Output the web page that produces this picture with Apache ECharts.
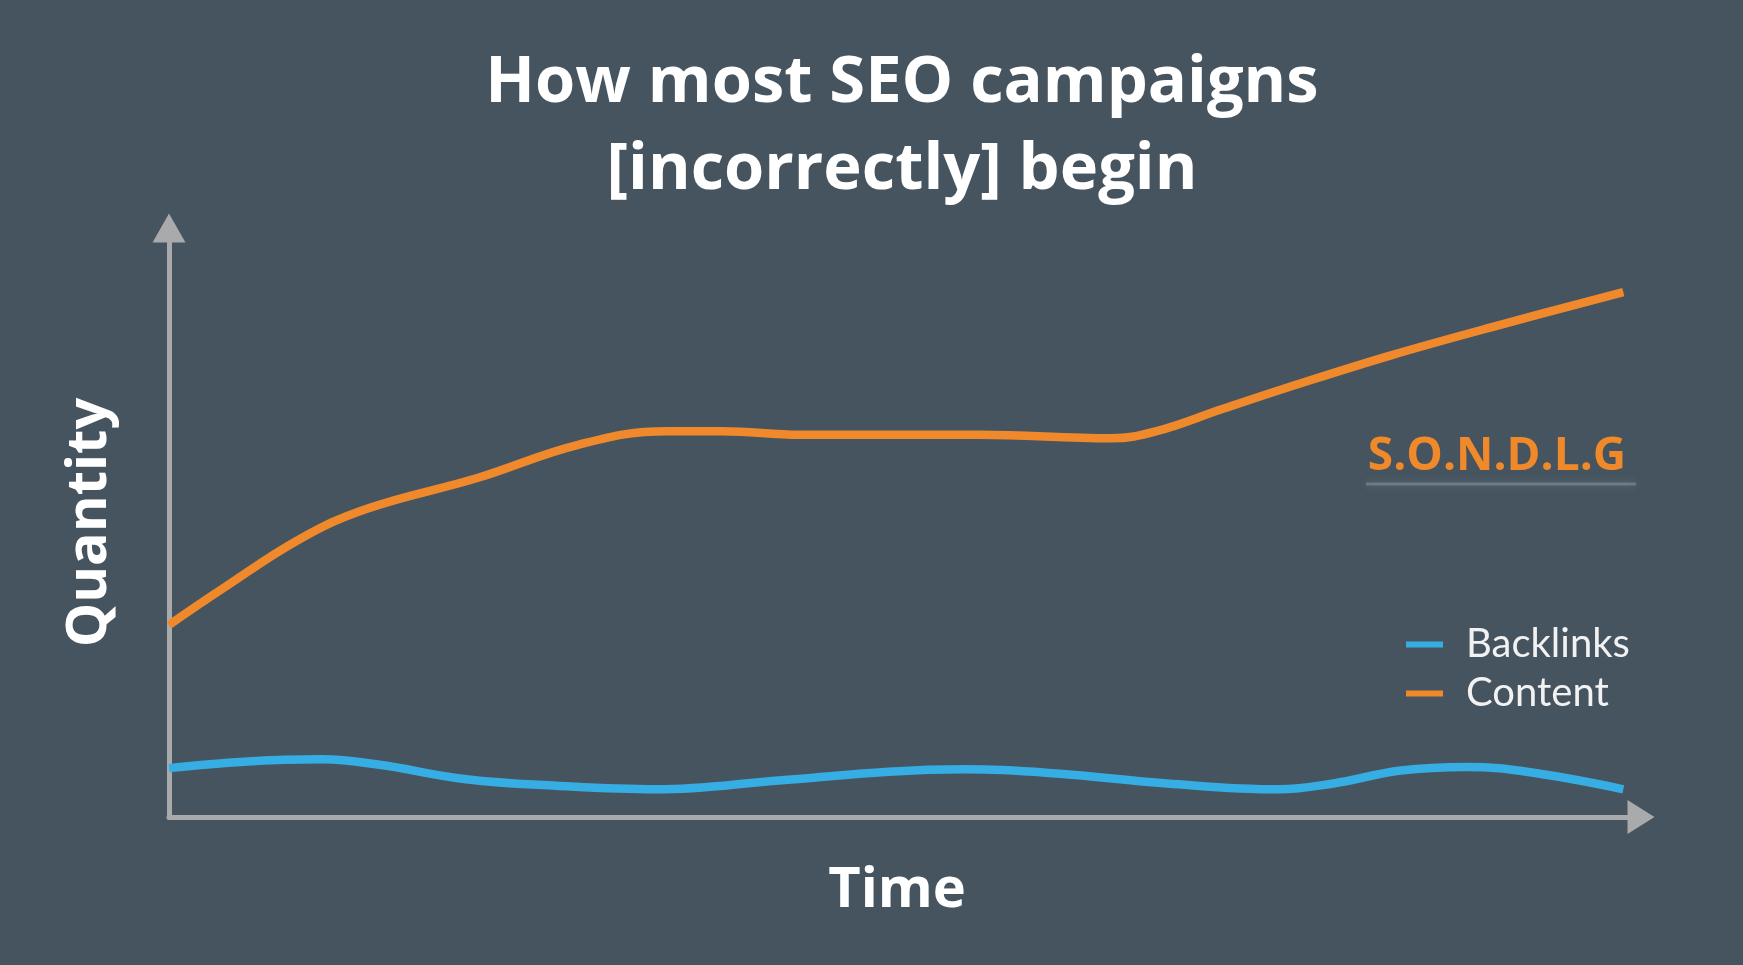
<!DOCTYPE html>
<html>
<head>
<meta charset="utf-8">
<script src="https://cdn.jsdelivr.net/npm/echarts@6/dist/echarts.min.js"></script>
<style>
html,body{margin:0;padding:0;background:#46545f;}
#chart{width:1743px;height:965px;}
</style>
</head>
<body>
<div id="chart"></div>
<script>
// Time position (0..100) and quantity (0..100)
const contentX = [0, 3.6, 8.9, 13.4, 21.0, 27.8, 33.8, 37.6, 42.9, 55.0, 64.0, 67.1, 71.6, 76.1, 82.9, 90.5, 98.8];
const contentY = [32.6, 38.7, 47.2, 52.3, 57.6, 63.2, 65.5, 65.5, 64.9, 64.9, 64.3, 65.5, 69.3, 73.0, 78.3, 83.6, 89.1];
const backlinksX = [0, 5.1, 10.4, 14.2, 20.2, 26.3, 33.1, 41.4, 48.9, 54.2, 60.3, 67.8, 75.4, 79.1, 83.7, 88.2, 92.7, 98.8];
const backlinksY = [8.3, 9.4, 9.8, 8.9, 6.4, 5.3, 4.7, 6.2, 7.7, 8.1, 7.4, 5.7, 4.7, 5.7, 7.9, 8.5, 7.5, 4.7];
const seriesNames = ['Backlinks', 'Content'];
const titleText = 'How most SEO campaigns\n[incorrectly] begin';
const xName = 'Time';
const yName = 'Quantity';
const badge = 'S.O.N.D.L.G';

const pairs = (xs, ys) => xs.map((x, i) => [x, ys[i]]);
const axisColor = '#a8aaac';
const chart = echarts.init(document.getElementById('chart'));
chart.setOption({
  backgroundColor: '#46545f',
  animation: false,
  title: {
    text: titleText,
    left: 897, top: 35,
    textAlign: 'center',
    textStyle: {color: '#ffffff', fontFamily: 'Open Sans', fontWeight: 'bold', fontSize: 65, lineHeight: 87}
  },
  legend: {
    data: seriesNames,
    orient: 'vertical',
    left: 1406, top: 620,
    padding: 0,
    icon: 'rect',
    itemWidth: 37, itemHeight: 6,
    itemGap: 0,
    textStyle: {color: '#f2f2f2', fontFamily: 'Lato', fontSize: 40, lineHeight: 49, padding: [0, 0, 0, 18]}
  },
  grid: {left: 169, right: 102, top: 228, bottom: 148},
  xAxis: {
    type: 'value', min: 0, max: 100,
    name: xName, nameLocation: 'middle', nameGap: 46,
    nameTextStyle: {color: '#ffffff', fontFamily: 'Open Sans', fontWeight: 'bold', fontSize: 56, padding: [0, 16, 0, 0]},
    axisLine: {show: true, symbol: ['none', 'triangle'], symbolSize: [34, 27], lineStyle: {color: axisColor, width: 5}},
    axisTick: {show: false}, axisLabel: {show: false}, splitLine: {show: false}
  },
  yAxis: {
    type: 'value', min: 0, max: 100,
    name: yName, nameLocation: 'middle', nameGap: 43,
    nameTextStyle: {color: '#ffffff', fontFamily: 'Open Sans', fontWeight: 'bold', fontSize: 56, padding: [0, 0, 8, 0]},
    axisLine: {show: true, symbol: ['none', 'triangle'], symbolSize: [33, 29], lineStyle: {color: axisColor, width: 5}},
    axisTick: {show: false}, axisLabel: {show: false}, splitLine: {show: false}
  },
  graphic: [
    {type: 'line', shape: {x1: 1366, y1: 484, x2: 1636, y2: 484},
     style: {stroke: 'rgba(170,182,190,0.35)', lineWidth: 3, shadowBlur: 8, shadowColor: 'rgba(190,200,205,0.7)'}},
    {type: 'text', x: 1497, y: 457,
     style: {text: badge, fill: '#f0892a', font: 'bold 46px "Open Sans"', align: 'center', verticalAlign: 'middle'}}
  ],
  series: [
    {name: seriesNames[0], type: 'line', smooth: 0.4, showSymbol: false,
     data: pairs(backlinksX, backlinksY), itemStyle: {color: '#36ade3'},
     lineStyle: {color: '#36ade3', width: 8.5}},
    {name: seriesNames[1], type: 'line', smooth: 0.4, showSymbol: false,
     data: pairs(contentX, contentY), itemStyle: {color: '#f0892b'},
     lineStyle: {color: '#f0892b', width: 8.5}}
  ]
});
</script>
</body>
</html>
